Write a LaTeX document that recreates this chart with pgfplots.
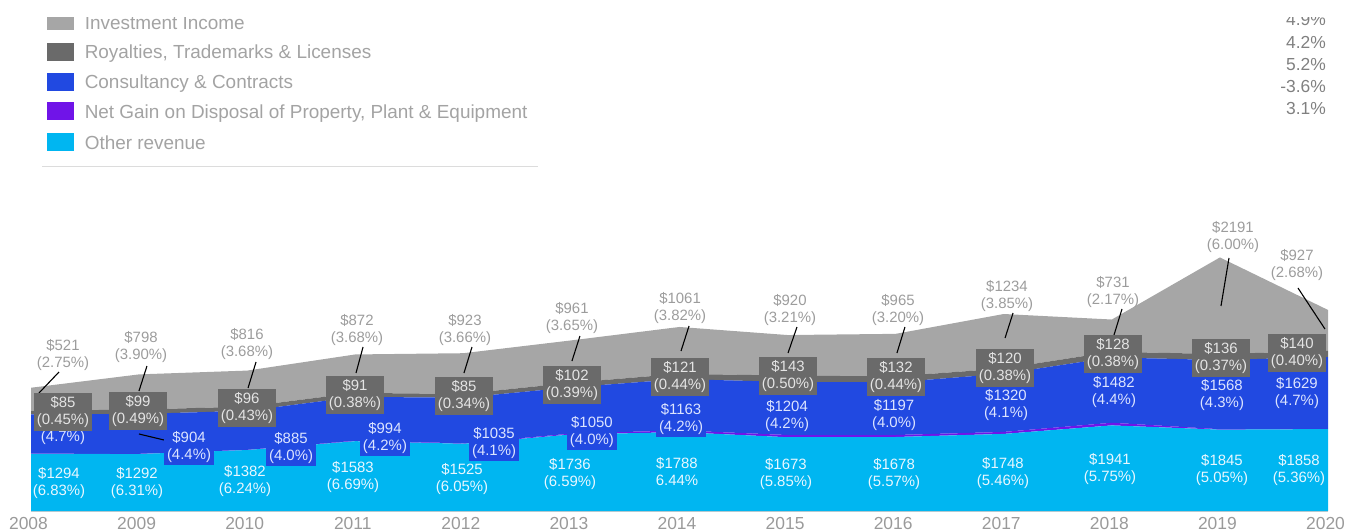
\documentclass[border=0pt]{standalone}
\usepackage{pgfplots}
\pgfplotsset{compat=1.18}
\usepackage{fontspec}
\setmainfont{Liberation Sans}
\definecolor{invcol}{HTML}{A6A6A6}
\definecolor{roycol}{HTML}{6A6A6A}
\definecolor{concol}{HTML}{2149E1}
\definecolor{gaincol}{HTML}{7014E8}
\definecolor{othcol}{HTML}{00B6F1}
\definecolor{invtext}{HTML}{9C9C9C}
\definecolor{boxtext}{HTML}{E4E4E4}
\definecolor{context}{HTML}{DCE4FF}
\definecolor{othtext}{HTML}{E8F7FF}
\definecolor{legtext}{HTML}{A3A3A3}
\definecolor{tickcol}{HTML}{9A9A9A}
\definecolor{pctcol}{HTML}{808080}
\definecolor{axcol}{HTML}{CCCCCC}
\definecolor{sepcol}{HTML}{DCDCDC}
\tikzset{
  dl/.style={font=\fontsize{15}{17}\selectfont, align=center},
  inv/.style={dl, text=invtext, inner sep=0pt},
  roy/.style={dl, fill=roycol, text=boxtext, inner xsep=3bp, inner ysep=3bp},
  con/.style={dl, fill=concol, text=context, inner xsep=3bp, inner ysep=2bp},
  oth/.style={dl, text=othtext, inner sep=0pt},
  lead/.style={black, line width=1.1bp},
}
\pgfplotsset{
  frame/.style={
    at={(31bp,20bp)}, anchor=south west,
    scale only axis, width=1297bp, height=264.6bp,
    xmin=2008, xmax=2020, ymin=0, ymax=6000, clip=false,
  },
}
\begin{document}
\begin{tikzpicture}
\useasboundingbox (0bp,0bp) rectangle (1349bp,531bp);
\begin{axis}[
  frame, stack plots=y,
  axis y line=none, axis x line*=bottom,
  x axis line style={draw=axcol, line width=2.4bp, -},
  xtick={2008,2009,2010,2011,2012,2013,2014,2015,2016,2017,2018,2019,2020},
  xticklabels={2008,2009,2010,2011,2012,2013,2014,2015,2016,2017,2018,2019,2020},
  major tick length=0pt,
  xticklabel style={font=\fontsize{17.5}{20}\selectfont, text=tickcol, anchor=base, yshift=-18.8bp, xshift=-2.5bp},
]
% Other revenue
\addplot[fill=othcol, draw=none] coordinates {(2008,1294)(2009,1292)(2010,1382)(2011,1583)(2012,1525)(2013,1736)(2014,1788)(2015,1673)(2016,1678)(2017,1748)(2018,1941)(2019,1845)(2020,1858)} \closedcycle;
% Net gain on disposal
\addplot[fill=gaincol, draw=none] coordinates {(2008,5)(2009,5)(2010,5)(2011,10)(2012,10)(2013,20)(2014,40)(2015,50)(2016,45)(2017,45)(2018,60)(2019,10)(2020,5)} \closedcycle;
% Consultancy & Contracts
\addplot[fill=concol, draw=none] coordinates {(2008,890)(2009,904)(2010,885)(2011,994)(2012,1035)(2013,1050)(2014,1163)(2015,1204)(2016,1197)(2017,1320)(2018,1482)(2019,1568)(2020,1629)} \closedcycle;
% Royalties
\addplot[fill=roycol, draw=none] coordinates {(2008,85)(2009,99)(2010,96)(2011,91)(2012,85)(2013,102)(2014,121)(2015,143)(2016,132)(2017,120)(2018,128)(2019,136)(2020,140)} \closedcycle;
% Investment income
\addplot[fill=invcol, draw=none] coordinates {(2008,521)(2009,798)(2010,816)(2011,872)(2012,923)(2013,961)(2014,1061)(2015,920)(2016,965)(2017,1234)(2018,731)(2019,2191)(2020,927)} \closedcycle;
\end{axis}

% overlay axis with the same geometry, for the data labels
\begin{axis}[frame, hide axis]
% leader lines (investment)
\draw[lead] (axis cs:2008.259,3152.0) -- (axis cs:2008.074,2675.8);
\draw[lead] (axis cs:2009.073,3288.0) -- (axis cs:2008.999,2721.1);
\draw[lead] (axis cs:2010.082,3378.7) -- (axis cs:2010.008,2789.1);
\draw[lead] (axis cs:2011.072,3718.9) -- (axis cs:2011.007,3129.3);
\draw[lead] (axis cs:2012.080,3718.9) -- (axis cs:2012.006,3129.3);
\draw[lead] (axis cs:2013.079,3968.3) -- (axis cs:2013.005,3401.4);
\draw[lead] (axis cs:2014.088,4195.1) -- (axis cs:2014.014,3628.2);
\draw[lead] (axis cs:2015.087,4172.4) -- (axis cs:2015.004,3582.8);
\draw[lead] (axis cs:2016.086,4172.4) -- (axis cs:2016.012,3582.8);
\draw[lead] (axis cs:2017.086,4489.8) -- (axis cs:2017.012,3923.0);
\draw[lead] (axis cs:2018.094,4580.6) -- (axis cs:2018.020,3991.0);
\draw[lead] (axis cs:2019.084,5737.0) -- (axis cs:2019.010,4648.6);
\draw[lead] (axis cs:2019.722,5056.7) -- (axis cs:2019.972,4127.0);
% leader line (consultancy 2009)
\draw[lead] (axis cs:2008.999,1746.1) -- (axis cs:2009.231,1610.0);

% investment labels
\node[inv] at (axis cs:2008.296,3537.5) {\$521\\(2.75\%)};
\node[inv] at (axis cs:2009.018,3718.9) {\$798\\(3.90\%)};
\node[inv] at (axis cs:2009.998,3786.9) {\$816\\(3.68\%)};
\node[inv] at (axis cs:2011.016,4104.4) {\$872\\(3.68\%)};
\node[inv] at (axis cs:2012.015,4104.4) {\$923\\(3.66\%)};
\node[inv] at (axis cs:2013.005,4376.5) {\$961\\(3.65\%)};
\node[inv] at (axis cs:2014.005,4603.2) {\$1061\\(3.82\%)};
\node[inv] at (axis cs:2015.022,4557.9) {\$920\\(3.21\%)};
\node[inv] at (axis cs:2016.022,4557.9) {\$965\\(3.20\%)};
\node[inv] at (axis cs:2017.030,4875.3) {\$1234\\(3.85\%)};
\node[inv] at (axis cs:2018.011,4966.0) {\$731\\(2.17\%)};
\node[inv] at (axis cs:2019.121,6213.2) {\$2191\\(6.00\%)};
\node[inv] at (axis cs:2019.713,5578.3) {\$927\\(2.68\%)};

% other revenue labels
\node[oth] at (axis cs:2008.259,634.9) {\$1294\\(6.83\%)};
\node[oth] at (axis cs:2008.981,634.9) {\$1292\\(6.31\%)};
\node[oth] at (axis cs:2009.980,680.3) {\$1382\\(6.24\%)};
\node[oth] at (axis cs:2010.979,771.0) {\$1583\\(6.69\%)};
\node[oth] at (axis cs:2011.988,725.6) {\$1525\\(6.05\%)};
\node[oth] at (axis cs:2012.987,839.0) {\$1736\\(6.59\%)};
\node[oth] at (axis cs:2013.977,884.4) {\$1788\\6.44\%};
\node[oth] at (axis cs:2014.985,839.0) {\$1673\\(5.85\%)};
\node[oth] at (axis cs:2015.985,839.0) {\$1678\\(5.57\%)};
\node[oth] at (axis cs:2016.993,861.7) {\$1748\\(5.46\%)};
\node[oth] at (axis cs:2017.983,952.4) {\$1941\\(5.75\%)};
\node[oth] at (axis cs:2019.019,929.7) {\$1845\\(5.05\%)};
\node[oth] at (axis cs:2019.732,929.7) {\$1858\\(5.36\%)};

% consultancy labels
\node[dl, text=context, inner sep=0pt] at (axis cs:2008.296,1655.3) {(4.7\%)};
\node[con] at (axis cs:2009.462,1451.3) {\$904\\(4.4\%)};
\node[con] at (axis cs:2010.406,1428.6) {\$885\\(4.0\%)};
\node[con] at (axis cs:2011.275,1655.3) {\$994\\(4.2\%)};
\node[con] at (axis cs:2012.284,1542.0) {\$1035\\(4.1\%)};
\node[con] at (axis cs:2013.190,1791.4) {\$1050\\(4.0\%)};
\node[con] at (axis cs:2014.014,2086.2) {\$1163\\(4.2\%)};
\node[con] at (axis cs:2014.995,2154.2) {\$1204\\(4.2\%)};
\node[con] at (axis cs:2015.985,2176.9) {\$1197\\(4.0\%)};
\node[con] at (axis cs:2017.021,2403.7) {\$1320\\(4.1\%)};
\node[con] at (axis cs:2018.020,2698.4) {\$1482\\(4.4\%)};
\node[con] at (axis cs:2019.019,2630.4) {\$1568\\(4.3\%)};
\node[con] at (axis cs:2019.713,2675.8) {\$1629\\(4.7\%)};

% royalty labels
\node[roy] at (axis cs:2008.296,2244.9) {\$85\\(0.45\%)};
\node[roy] at (axis cs:2008.990,2267.6) {\$99\\(0.49\%)};
\node[roy] at (axis cs:2009.998,2335.6) {\$96\\(0.43\%)};
\node[roy] at (axis cs:2010.998,2630.4) {\$91\\(0.38\%)};
\node[roy] at (axis cs:2012.006,2607.7) {\$85\\(0.34\%)};
\node[roy] at (axis cs:2013.005,2857.2) {\$102\\(0.39\%)};
\node[roy] at (axis cs:2014.005,3038.6) {\$121\\(0.44\%)};
\node[roy] at (axis cs:2015.004,3061.3) {\$143\\(0.50\%)};
\node[roy] at (axis cs:2016.003,3038.6) {\$132\\(0.44\%)};
\node[roy] at (axis cs:2017.012,3242.7) {\$120\\(0.38\%)};
\node[roy] at (axis cs:2018.011,3560.1) {\$128\\(0.38\%)};
\node[roy] at (axis cs:2019.010,3469.4) {\$136\\(0.37\%)};
\node[roy] at (axis cs:2019.713,3582.8) {\$140\\(0.40\%)};
\end{axis}

% legend and side figures (image coordinates: x right, y down from top)
\begin{scope}[x=1bp, y=-1bp, shift={(0bp,531bp)}]
  \clip (0,18) rectangle (1349,531);
  \fill[invcol]  (47.4,12.5)  rectangle (74.3,30.5);
  \fill[roycol]  (47.4,43)    rectangle (74.3,61);
  \fill[concol]  (47.4,73)    rectangle (74.3,91);
  \fill[gaincol] (47.4,102.5) rectangle (74.3,120.5);
  \fill[othcol]  (47.4,133)   rectangle (74.3,151);
  \begin{scope}[every node/.style={anchor=base west, inner sep=0pt, text=legtext, font=\fontsize{19}{21}\selectfont}]
    \node at (84.6,30)    {Investment Income};
    \node at (84.6,58.6)  {Royalties, Trademarks \& Licenses};
    \node at (84.6,88.5)  {Consultancy \& Contracts};
    \node at (84.6,118.2) {Net Gain on Disposal of Property, Plant \& Equipment};
    \node at (84.6,149.5) {Other revenue};
  \end{scope}
  \draw[sepcol, line width=1.5bp] (42.4,166.5) -- (538,166.5);
  \begin{scope}[every node/.style={anchor=base east, inner sep=0pt, text=pctcol, font=\fontsize{17.5}{20}\selectfont}]
    \node at (1326,26)    {4.9\%};
    \node at (1326,48.5)  {4.2\%};
    \node at (1326,70.5)  {5.2\%};
    \node at (1326,92.5)  {-3.6\%};
    \node at (1326,114.5) {3.1\%};
  \end{scope}
\end{scope}
\end{tikzpicture}
\end{document}
